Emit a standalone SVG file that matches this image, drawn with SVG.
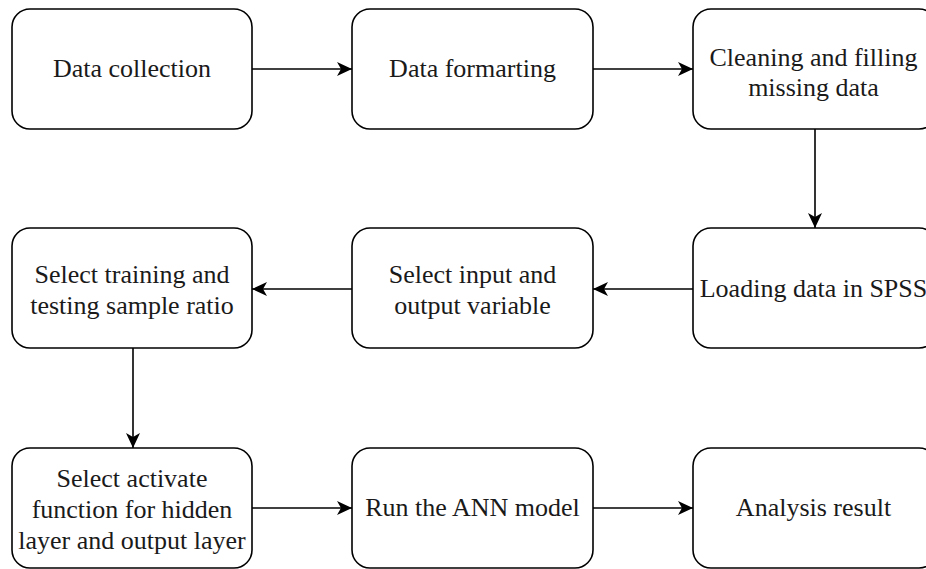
<svg xmlns="http://www.w3.org/2000/svg" width="926" height="569" viewBox="0 0 926 569">
<defs>
<style>
.box{fill:#fff;stroke:#000;stroke-width:1.6}
.lbl{font-family:"Liberation Serif","Times New Roman",serif;font-size:26px;fill:#1a1a1a;text-anchor:middle}
.edge{fill:none;stroke:#000;stroke-width:1.6}
</style>
<marker id="arr" markerUnits="userSpaceOnUse" markerWidth="16" markerHeight="14" viewBox="0 0 16 14" refX="15" refY="7" orient="auto">
<path d="M0,0 L15,7 L0,14 L4,7 Z" fill="#000"/>
</marker>
</defs>
<rect width="926" height="569" fill="#fff"/>
<g id="connectors">
<line class="edge" x1="252" y1="69" x2="352" y2="69" marker-end="url(#arr)"/>
<line class="edge" x1="593" y1="69" x2="693" y2="69" marker-end="url(#arr)"/>
<line class="edge" x1="815" y1="129" x2="815" y2="228" marker-end="url(#arr)"/>
<line class="edge" x1="693" y1="289" x2="593" y2="289" marker-end="url(#arr)"/>
<line class="edge" x1="352" y1="289" x2="252" y2="289" marker-end="url(#arr)"/>
<line class="edge" x1="133" y1="348" x2="133" y2="448" marker-end="url(#arr)"/>
<line class="edge" x1="252" y1="508" x2="352" y2="508" marker-end="url(#arr)"/>
<line class="edge" x1="593" y1="508" x2="693" y2="508" marker-end="url(#arr)"/>
</g>
<g id="n1"><rect class="box" x="12" y="9" width="240" height="120" rx="18"/><text class="lbl" x="132" y="77">Data collection</text></g>
<g id="n2"><rect class="box" x="352" y="9" width="241" height="120" rx="18"/><text class="lbl" x="472.5" y="77">Data formarting</text></g>
<g id="n3"><rect class="box" x="693" y="9" width="244" height="120" rx="18"/><text class="lbl" x="813.5" y="66">Cleaning and filling</text><text class="lbl" x="813.5" y="96">missing data</text></g>
<g id="n4"><rect class="box" x="693" y="228" width="244" height="120" rx="18"/><text class="lbl" x="813.5" y="297">Loading data in SPSS</text></g>
<g id="n5"><rect class="box" x="352" y="228" width="241" height="120" rx="18"/><text class="lbl" x="472.5" y="283">Select input and</text><text class="lbl" x="472.5" y="314">output variable</text></g>
<g id="n6"><rect class="box" x="12" y="228" width="240" height="120" rx="18"/><text class="lbl" x="132" y="283">Select training and</text><text class="lbl" x="132" y="314">testing sample ratio</text></g>
<g id="n7"><rect class="box" x="12" y="448" width="240" height="120" rx="18"/><text class="lbl" x="132" y="487">Select activate</text><text class="lbl" x="132" y="518">function for hidden</text><text class="lbl" x="132" y="549">layer and output layer</text></g>
<g id="n8"><rect class="box" x="352" y="448" width="241" height="120" rx="18"/><text class="lbl" x="472.5" y="516">Run the ANN model</text></g>
<g id="n9"><rect class="box" x="693" y="448" width="244" height="120" rx="18"/><text class="lbl" x="813.5" y="516">Analysis result</text></g>
</svg>
